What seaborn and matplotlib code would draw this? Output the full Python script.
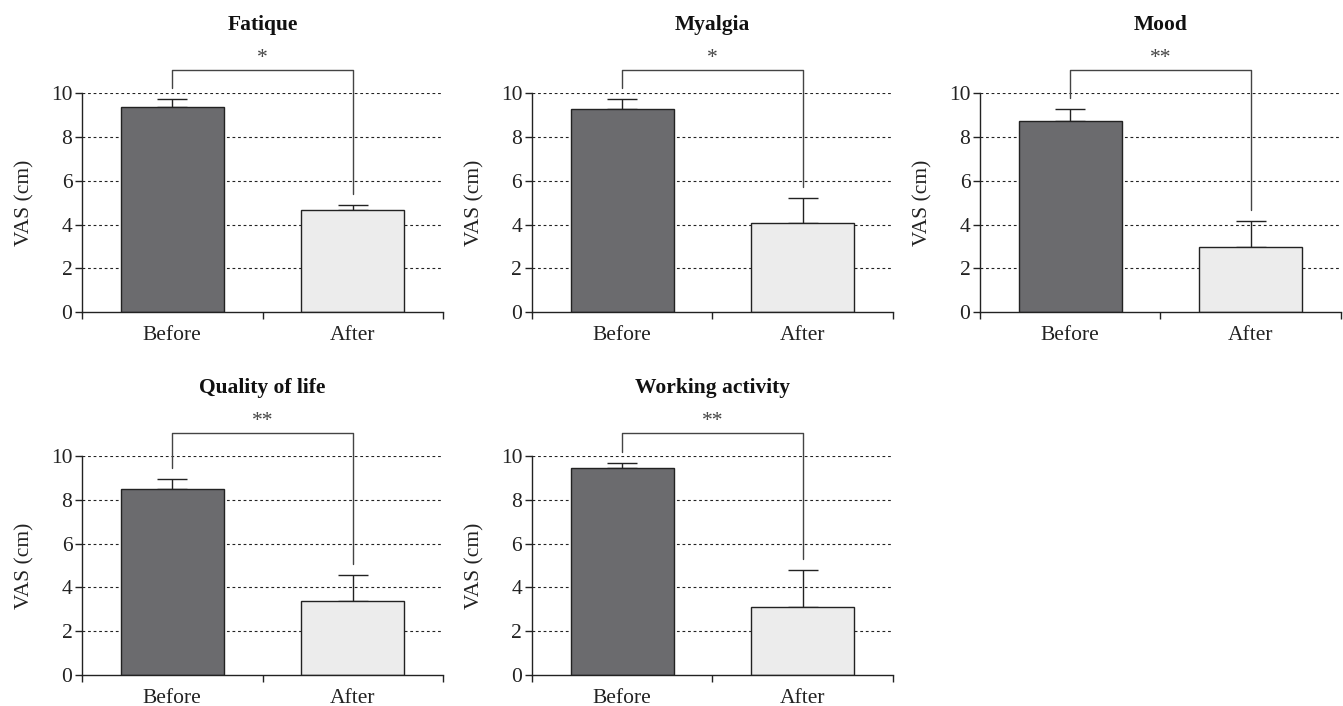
import matplotlib
matplotlib.use('AGG')
import matplotlib.pyplot as plt
import seaborn as sns
import pandas as pd
import numpy as np

# values (VAS, cm)
titles = ['Fatique', 'Myalgia', 'Mood', 'Quality of life', 'Working activity']
groups = ['Before', 'After']
before_mean = [9.35, 9.3, 8.75, 8.5, 9.45]
after_mean = [4.65, 4.05, 2.95, 3.4, 3.1]
before_err = [0.4, 0.45, 0.55, 0.45, 0.25]
after_err = [0.25, 1.15, 1.2, 1.15, 1.7]
stars = ['*', '*', '**', '**', '**']

sns.set_theme(style='white')
plt.rcParams['font.family'] = ['Liberation Serif', 'DejaVu Serif']

fig = plt.figure(figsize=(13.43, 7.06), dpi=100)

lefts = [0.0611, 0.3961, 0.7297]
bottoms = [0.558, 0.0439]
w, h = 0.2688, 0.310
fs = 15.5

for i, title in enumerate(titles):
    row, col = divmod(i, 3)
    ax = fig.add_axes([lefts[col], bottoms[row], w, h])
    df = pd.DataFrame({'group': groups, 'vas': [before_mean[i], after_mean[i]]})
    sns.barplot(data=df, x='group', y='vas', hue='group', palette=['#6a6b6f', '#ececec'],
                width=0.57, edgecolor='#222222', linewidth=1.0, legend=False, ax=ax, zorder=2)
    ax.errorbar([0, 1], [before_mean[i], after_mean[i]],
                yerr=[[0, 0], [before_err[i], after_err[i]]],
                fmt='none', ecolor='#222222', elinewidth=1.0, capsize=11, capthick=1.0, zorder=1)
    for y in [2, 4, 6, 8, 10]:
        ax.axhline(y, color='#222222', linestyle=(0, (2.5, 2.5)), linewidth=0.8, zorder=0)

    ax.set_xlim(-0.5, 1.5)
    ax.set_ylim(0, 10)
    ax.set_yticks([0, 2, 4, 6, 8, 10])
    ax.set_xticks([0, 1])
    ax.set_xticklabels(groups)
    ax.set_xticks([-0.5, 0.5, 1.5], minor=True)
    ax.tick_params(axis='x', which='major', length=0, pad=10, labelsize=fs, colors='#222222')
    ax.tick_params(axis='x', which='minor', length=5, width=1.0, direction='out', bottom=True, color='#222222')
    ax.tick_params(axis='y', length=5, width=1.0, direction='out', left=True, pad=2, labelsize=fs, colors='#222222')
    ax.set_xlabel('')
    ax.set_ylabel('VAS (cm)', fontsize=fs, color='#222222', labelpad=12)
    for s in ['top', 'right']:
        ax.spines[s].set_visible(False)
    for s in ['left', 'bottom']:
        ax.spines[s].set_color('#222222')
        ax.spines[s].set_linewidth(1.0)

    # significance bracket
    top = 11.05
    yl = before_mean[i] + before_err[i] + 0.5
    yr = after_mean[i] + after_err[i] + 0.5
    ax.plot([0, 0, 1, 1], [yl, top, top, yr], color='#444444', linewidth=1.0, clip_on=False)
    ax.text(0.5, 11.6, stars[i], ha='center', va='center', fontsize=fs, color='#444444')
    ax.text(0.5, 1.31, title, transform=ax.transAxes, ha='center', va='center',
            fontsize=fs, fontweight='bold', color='#111111')

fig.savefig('out.png', dpi=100)
